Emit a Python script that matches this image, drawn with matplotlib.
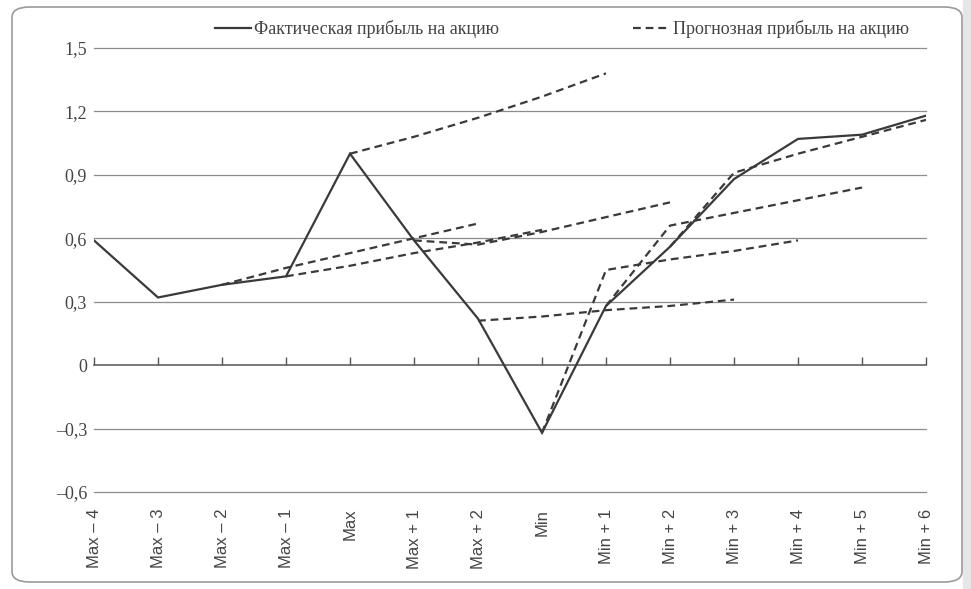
import matplotlib
matplotlib.use('Agg')
import matplotlib.pyplot as plt
from matplotlib.patches import FancyBboxPatch, Rectangle
import numpy as np

categories = ['Max – 4', 'Max – 3', 'Max – 2', 'Max – 1', 'Max', 'Max + 1', 'Max + 2',
              'Min', 'Min + 1', 'Min + 2', 'Min + 3', 'Min + 4', 'Min + 5', 'Min + 6']
actual = [0.59, 0.32, 0.38, 0.42, 1.00, 0.59, 0.22, -0.32, 0.28, 0.56, 0.88, 1.07, 1.09, 1.18]

# forecasts: each starts at a category and runs 4 periods ahead
fc_start = ['Max – 2', 'Max – 1', 'Max', 'Max + 1', 'Max + 2', 'Min', 'Min + 1', 'Min + 2']
fc_1 = [0.38, 0.46, 0.53, 0.60, 0.67]
fc_2 = [0.42, 0.47, 0.53, 0.58, 0.64]
fc_3 = [1.00, 1.08, 1.17, 1.27, 1.38]
fc_4 = [0.59, 0.57, 0.63, 0.70, 0.77]
fc_5 = [0.21, 0.23, 0.26, 0.28, 0.31]
fc_6 = [-0.32, 0.45, 0.50, 0.54, 0.59]
fc_7 = [0.28, 0.66, 0.72, 0.78, 0.84]
fc_8 = [0.56, 0.91, 1.00, 1.08, 1.16]
forecasts = [fc_1, fc_2, fc_3, fc_4, fc_5, fc_6, fc_7, fc_8]

yticks = [-0.6, -0.3, 0, 0.3, 0.6, 0.9, 1.2, 1.5]
ytick_labels = ['–0,6', '–0,3', '0', '0,3', '0,6', '0,9', '1,2', '1,5']

line_col = '#3a3a3a'
grid_col = '#8c8c8c'
serif = ['Liberation Serif', 'DejaVu Serif']
sans = ['Liberation Sans', 'DejaVu Sans']

fig = plt.figure(figsize=(9.71, 5.89), dpi=100)
ax = fig.add_axes([94/971, 1-492/589, (926-94)/971, (492-48)/589])

x = np.arange(len(categories))
ax.plot(x, actual, color=line_col, lw=1.6, solid_joinstyle='miter',
        label='Фактическая прибыль на акцию', zorder=3)
for i, (start, vals) in enumerate(zip(fc_start, forecasts)):
    s = categories.index(start)
    ax.plot(np.arange(s, s + len(vals)), vals, color=line_col, lw=1.6,
            ls=(0, (3.5, 2.2)), label='Прогнозная прибыль на акцию' if i == 0 else None,
            zorder=2)

ax.set_xlim(0, 13)
ax.set_ylim(-0.6, 1.5)
ax.set_yticks(yticks)
ax.set_yticklabels(ytick_labels, family=serif, fontsize=13, color='#444444')
ax.tick_params(axis='y', length=0, pad=5)
for v in yticks:
    if v != 0:
        ax.axhline(v, color=grid_col, lw=0.9, zorder=1, clip_on=False)

for side in ['left', 'right', 'top']:
    ax.spines[side].set_visible(False)
ax.spines['bottom'].set_position(('data', 0))
ax.spines['bottom'].set_color('#555555')
ax.spines['bottom'].set_linewidth(1.1)
ax.set_xticks(x)
ax.tick_params(axis='x', direction='in', length=6, width=1.0, color='#555555',
               labelbottom=False)

sec = ax.secondary_xaxis(location=0)
sec.set_xticks(x)
sec.set_xticklabels(categories, rotation=90, family=sans, fontsize=12,
                    color='#444444', va='top')
sec.tick_params(length=0, pad=12)
sec.spines['bottom'].set_visible(False)

leg = ax.legend(loc='lower center', bbox_to_anchor=(0.562, 1.0), ncol=2, frameon=False,
                handlelength=2.0, handletextpad=0.2, columnspacing=7.4,
                prop={'family': serif, 'size': 13}, borderaxespad=0.15)
for t in leg.get_texts():
    t.set_color('#444444')

frame = FancyBboxPatch((12/971, 7/589), (962-12)/971, (582-7)/589,
                       boxstyle='round,pad=0,rounding_size=0.018',
                       transform=fig.transFigure, fill=False,
                       edgecolor='#9a9a9a', lw=1.2)
fig.patches.append(frame)
fig.patches.append(Rectangle((963/971, 0), 8/971, 1, transform=fig.transFigure,
                             color='#e6e6e6', zorder=0))

fig.savefig('out.png', dpi=100)
